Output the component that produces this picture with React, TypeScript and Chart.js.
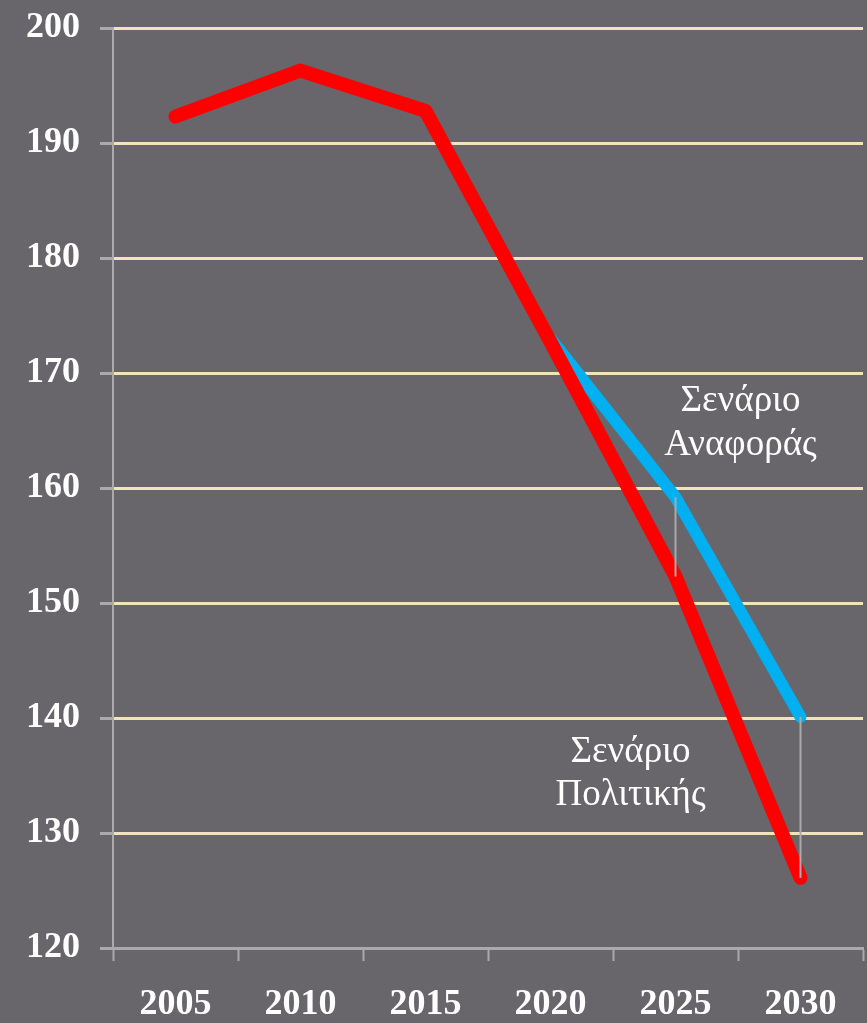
import React, { useEffect, useRef } from "react";
import { Chart, registerables } from "chart.js";

Chart.register(...registerables);

const categories = ["2005", "2010", "2015", "2020", "2025", "2030"];
const policyValues = [192.3, 196.3, 192.8, 172.7, 152.3, 126.1];
const referenceValues = [null, null, null, 173.0, 159.2, 140.1];
const yTicks = [120, 130, 140, 150, 160, 170, 180, 190, 200];
const dropLineIndexes = [4, 5];
const annotations = [
  { lines: ["Σενάριο", "Αναφοράς"], x: 4.52, y: [166.7, 162.9] },
  { lines: ["Σενάριο", "Πολιτικής"], x: 3.64, y: [136.2, 132.4] },
];

const BG = "#68656b";
const GRID = "#f1e3bb";
const AXIS = "#aaaaaa";
const SERIF = "'Liberation Serif', 'DejaVu Serif', serif";

export default function App() {
  const ref = useRef<HTMLCanvasElement | null>(null);

  useEffect(() => {
    document.body.style.margin = "0";
    document.body.style.background = BG;
    const bgPlugin = {
      id: "bg",
      beforeDraw(chart: any) {
        const { ctx, width, height } = chart;
        ctx.save();
        ctx.fillStyle = BG;
        ctx.fillRect(0, 0, width, height);
        ctx.restore();
      },
    };
    const extrasPlugin = {
      id: "extras",
      afterDatasetsDraw(chart: any) {
        const { ctx, scales } = chart;
        const xs = scales.x;
        const ys = scales.y;
        ctx.save();
        ctx.strokeStyle = AXIS;
        ctx.lineWidth = 2;
        dropLineIndexes.forEach((i) => {
          const x = xs.getPixelForValue(i);
          ctx.beginPath();
          ctx.moveTo(x, ys.getPixelForValue(referenceValues[i] as number));
          ctx.lineTo(x, ys.getPixelForValue(policyValues[i]));
          ctx.stroke();
        });
        ctx.fillStyle = "#ffffff";
        ctx.font = `37px ${SERIF}`;
        ctx.textAlign = "center";
        ctx.textBaseline = "alphabetic";
        annotations.forEach((a) => {
          const x = xs.getPixelForValue(a.x);
          a.lines.forEach((t, k) => {
            ctx.fillText(t, x, ys.getPixelForValue(a.y[k]));
          });
        });
        ctx.restore();
      },
    };
    const chart = new Chart(ref.current as HTMLCanvasElement, {
      type: "line",
      data: {
        labels: categories,
        datasets: [
          {
            label: "Σενάριο Πολιτικής",
            data: policyValues,
            borderColor: "#ff0000",
            borderWidth: 14,
            borderCapStyle: "round",
            borderJoinStyle: "round",
            pointRadius: 0,
            tension: 0,
            order: 0,
          },
          {
            label: "Σενάριο Αναφοράς",
            data: referenceValues,
            borderColor: "#00b0f0",
            borderWidth: 12,
            borderCapStyle: "round",
            borderJoinStyle: "round",
            pointRadius: 0,
            tension: 0,
            order: 1,
          },
        ],
      },
      options: {
        animation: false,
        responsive: false,
        maintainAspectRatio: false,
        layout: { padding: { top: 28, right: 4, left: 0, bottom: 0 } },
        plugins: { legend: { display: false }, tooltip: { enabled: false } },
        scales: {
          x: {
            offset: true,
            grid: {
              offset: true,
              drawOnChartArea: false,
              tickLength: 13,
              tickColor: AXIS,
              tickWidth: 2,
            },
            border: { color: AXIS, width: 3 },
            ticks: {
              color: "#ffffff",
              font: { family: SERIF, size: 36, weight: "bold" },
              padding: 22,
              maxRotation: 0,
              autoSkip: false,
            },
            afterFit(scale: any) {
              scale.height = 75;
              scale.paddingLeft = 0;
              scale.paddingRight = 0;
            },
          },
          y: {
            min: 120,
            max: 200,
            afterBuildTicks(scale: any) {
              scale.ticks = yTicks.map((v) => ({ value: v }));
            },
            grid: {
              color: GRID,
              lineWidth: 3,
              tickLength: 13,
              tickColor: AXIS,
              tickWidth: 3,
            },
            border: { color: AXIS, width: 2 },
            ticks: {
              color: "#ffffff",
              font: { family: SERIF, size: 36, weight: "bold" },
              padding: 20,
            },
            afterFit(scale: any) {
              scale.width = 113;
              scale.paddingTop = 0;
              scale.paddingBottom = 0;
            },
          },
        },
      },
      plugins: [bgPlugin, extrasPlugin],
    } as any);
    return () => chart.destroy();
  }, []);

  return (
    <div style={{ position: "fixed", left: 0, top: 0, width: 867, height: 1023, background: BG }}>
      <canvas ref={ref} width={867} height={1023} style={{ width: 867, height: 1023, display: "block" }} />
    </div>
  );
}
